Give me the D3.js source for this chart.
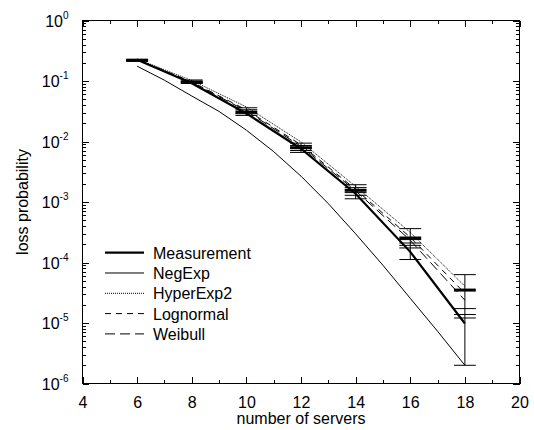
<!DOCTYPE html>
<html>
<head>
<meta charset="utf-8">
<script src="https://cdn.jsdelivr.net/npm/d3@7"></script>
<style>
  body { margin: 0; background: #fff; }
  text { font-family: "Liberation Sans", Arial, Helvetica, sans-serif; fill: #000; }
  .axis path, .axis line { stroke: #000; stroke-width: 1; shape-rendering: crispEdges; }
</style>
</head>
<body>
<div id="chart"></div>
<script>
// Dados
var servers = [6, 8, 10, 12, 14, 16, 18];
var negExpServers = [6, 7, 8, 9, 10, 11, 12, 13, 14, 15, 16, 17, 18];

var measurementLine = [0.224, 0.092, 0.0291, 0.0076, 0.00137, 0.000150, 0.0000098];
var negExp = [0.176, 0.103, 0.0565, 0.0314, 0.0154, 0.0068, 0.00267, 0.00094, 0.000298, 0.000090, 0.0000256, 0.0000073, 0.0000020];
var hyperExp2 = [0.231, 0.102, 0.0373, 0.00985, 0.00181, 0.000315, 0.0000405];
var lognormal = [0.227, 0.0965, 0.0333, 0.00879, 0.00162, 0.000261, 0.0000310];
var weibull = [0.227, 0.0947, 0.0320, 0.00830, 0.00153, 0.000233, 0.0000238];

// Pontos medidos com intervalo de confiança
var measured = [0.220, 0.096, 0.0306, 0.0079, 0.00156, 0.000254, 0.000035];
var measuredLow = [0.212, 0.091, 0.0270, 0.0066, 0.00113, 0.000112, 0.0000020];
var measuredHigh = [0.228, 0.104, 0.0361, 0.0094, 0.00193, 0.000363, 0.000063];

// Outras marcas horizontais (intervalos das simulações)
var simCaps = [
  [0.216, 0.224],
  [0.094, 0.099],
  [0.0335, 0.0288],
  [0.0086, 0.0071],
  [0.00173, 0.00143, 0.00129],
  [0.000239, 0.000210, 0.000192, 0.000174],
  [0.0000173, 0.0000138, 0.0000121]
];

var xTicks = [4, 6, 8, 10, 12, 14, 16, 18, 20];
var xMinorTicks = [5, 7, 9, 11, 13, 15, 17, 19];
var yTicks = [1, 1e-1, 1e-2, 1e-3, 1e-4, 1e-5, 1e-6];
var yExponents = ["0", "-1", "-2", "-3", "-4", "-5", "-6"];

var legendNames = ["Measurement", "NegExp", "HyperExp2", "Lognormal", "Weibull"];

// Configura margens do svg
var margin = { top: 20.5, left: 82.5, right: 14.5, bottom: 46.5 },
  width = 534 - margin.left - margin.right,
  height = 430 - margin.top - margin.bottom;

var svg = d3.select("#chart")
  .append("svg")
  .attr("width", 534)
  .attr("height", 430)
  .append("g")
  .attr("transform", "translate(" + margin.left + "," + margin.top + ")");

// Escalas
var xScale = d3.scaleLinear().domain([4, 20]).range([0, width]);
var yScale = d3.scaleLog().domain([1e-6, 1]).range([height, 0]);

// Ticks menores do eixo log
var yMinorTicks = [];
yTicks.slice(1).forEach(function(t) {
  for (var k = 2; k <= 9; k++) yMinorTicks.push(t * k);
});

// Eixos (ticks para dentro nos quatro lados)
function addAxis(axis, cls, transform) {
  svg.append("g")
    .attr("class", "axis " + cls)
    .attr("transform", transform || null)
    .call(axis)
    .select(".domain").remove();
}

addAxis(d3.axisBottom(xScale).tickValues(xTicks).tickSize(-6.5).tickPadding(13).tickFormat(d3.format("d")),
  "x-axis", "translate(0," + height + ")");
addAxis(d3.axisBottom(xScale).tickValues(xMinorTicks).tickSize(-3.5).tickFormat(""),
  "x-minor", "translate(0," + height + ")");
addAxis(d3.axisTop(xScale).tickValues(xTicks).tickSize(-6.5).tickFormat(""), "x-top");
addAxis(d3.axisTop(xScale).tickValues(xMinorTicks).tickSize(-3.5).tickFormat(""), "x-top-minor");

addAxis(d3.axisLeft(yScale).tickValues(yTicks).tickSize(-6.5).tickFormat(""), "y-axis");
addAxis(d3.axisLeft(yScale).tickValues(yMinorTicks).tickSize(-3.5).tickFormat(""), "y-minor");
addAxis(d3.axisRight(yScale).tickValues(yTicks).tickSize(-6.5).tickFormat(""),
  "y-right", "translate(" + width + ",0)");
addAxis(d3.axisRight(yScale).tickValues(yMinorTicks).tickSize(-3.5).tickFormat(""),
  "y-right-minor", "translate(" + width + ",0)");

svg.selectAll(".x-axis .tick text")
  .attr("font-size", 16);

// Rótulos do eixo y como potências de 10
var yLabels = svg.append("g").attr("class", "y-labels");
yTicks.forEach(function(t, i) {
  var label = yLabels.append("text")
    .attr("x", -14)
    .attr("y", yScale(t))
    .attr("dy", 6)
    .attr("text-anchor", "end")
    .attr("font-size", 16);
  label.append("tspan").text("10");
  label.append("tspan")
    .attr("dy", -8)
    .attr("font-size", 10)
    .text(yExponents[i]);
});

// Caixa do gráfico
svg.append("rect")
  .attr("width", width)
  .attr("height", height)
  .attr("fill", "none")
  .attr("stroke", "#000")
  .attr("stroke-width", 1)
  .attr("shape-rendering", "crispEdges");

// Títulos dos eixos
svg.append("text")
  .attr("x", width / 2)
  .attr("y", height + 40.5)
  .attr("text-anchor", "middle")
  .attr("font-size", 16)
  .text("number of servers");

svg.append("text")
  .attr("transform", "translate(" + (28 - margin.left) + "," + (height / 2) + ") rotate(-90)")
  .attr("text-anchor", "middle")
  .attr("font-size", 16)
  .text("loss probability");

// Linhas
var series = [
  { name: "Measurement", xs: servers, values: measurementLine, width: 2.2, dash: null },
  { name: "NegExp", xs: negExpServers, values: negExp, width: 1, dash: null },
  { name: "HyperExp2", xs: servers, values: hyperExp2, width: 1, dash: "1,1" },
  { name: "Lognormal", xs: servers, values: lognormal, width: 1, dash: "6,5" },
  { name: "Weibull", xs: servers, values: weibull, width: 1, dash: "10,5" }
];

var line = d3.line()
  .x(function(d) { return xScale(d[0]); })
  .y(function(d) { return yScale(d[1]); });

series.forEach(function(s) {
  svg.append("path")
    .datum(s.xs.map(function(x, i) { return [x, s.values[i]]; }))
    .attr("fill", "none")
    .attr("stroke", "#000")
    .attr("stroke-width", s.width)
    .attr("stroke-dasharray", s.dash)
    .attr("d", line);
});

// Barras de erro
var capHalf = 0.4; // em unidades de servidores
var bars = svg.append("g").attr("class", "errorbars");

servers.forEach(function(x, i) {
  bars.append("line")
    .attr("x1", xScale(x)).attr("x2", xScale(x))
    .attr("y1", yScale(measuredLow[i])).attr("y2", yScale(measuredHigh[i]))
    .attr("stroke", "#000").attr("stroke-width", 1);

  var caps = [measuredLow[i], measuredHigh[i]].concat(simCaps[i]);
  caps.forEach(function(v) {
    bars.append("line")
      .attr("x1", xScale(x - capHalf)).attr("x2", xScale(x + capHalf))
      .attr("y1", yScale(v)).attr("y2", yScale(v))
      .attr("stroke", "#000").attr("stroke-width", 1);
  });

  bars.append("line")
    .attr("x1", xScale(x - capHalf)).attr("x2", xScale(x + capHalf))
    .attr("y1", yScale(measured[i])).attr("y2", yScale(measured[i]))
    .attr("stroke", "#000").attr("stroke-width", 3);
});

// Legenda
var legend = svg.append("g")
  .attr("class", "legend")
  .attr("transform", "translate(" + (105 - margin.left) + "," + (252.7 - margin.top) + ")");

series.forEach(function(s, i) {
  legend.append("line")
    .attr("x1", 0).attr("x2", 39)
    .attr("y1", i * 20.3).attr("y2", i * 20.3)
    .attr("stroke", "#000")
    .attr("stroke-width", s.width)
    .attr("stroke-dasharray", s.dash);
  legend.append("text")
    .attr("x", 48)
    .attr("y", i * 20.3)
    .attr("dy", 6)
    .attr("font-size", 16)
    .text(legendNames[i]);
});
</script>
</body>
</html>
